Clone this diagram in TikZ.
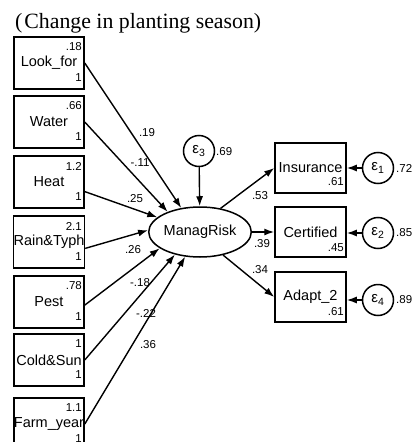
\documentclass[tikz,border=0pt]{standalone}
\usepackage{fontspec}
\setmainfont{Liberation Sans}
\newfontfamily\titlefont{Liberation Serif}
\usetikzlibrary{arrows.meta,shapes.geometric}
\begin{document}
\begin{tikzpicture}[x=1pt,y=-1pt,
  obs/.style={draw,line width=1.5pt,minimum width=70pt,minimum height=52pt,inner sep=0pt,font=\fontsize{14.5}{16}\selectfont},
  robs/.style={obs,minimum height=50pt,minimum width=71pt},
  lat/.style={draw,ellipse,line width=1.5pt,minimum width=74pt,minimum height=50pt,inner sep=0pt,font=\fontsize{14.5}{16}\selectfont},
  err/.style={draw,circle,line width=1.5pt,minimum size=31pt,inner sep=0pt,font=\fontsize{15}{17}\selectfont},
  sm/.style={font=\fontsize{11.5}{13}\selectfont,inner sep=0pt},
  arr/.style={line width=1.4pt,-{Latex[length=10pt,width=7pt]}},
]
\clip (0,0) rectangle (416,442);
\node[anchor=base west,inner sep=0pt,font=\titlefont\fontsize{21.8}{24}\selectfont] (title) at (15,28) {(\hspace{2pt}Change in planting season)};
% left observed variables
\foreach \n/\t/\top/\v in {a/Look\_for/37/.18, b/Water/96/.66, c/Heat/156/1.2, d/Rain\&Typh/216/2.1, e/Pest/276/.78, f/Cold\&Sun/334/1, g/Farm\_year/398/1.1} {
  \node[obs] (\n) at (49,\top+26) {\t};
  \node[sm,anchor=east] (\n v) at (82,\top+10) {\v};
  \node[sm,anchor=east] (\n o) at (82,\top+41) {1};
}
% latent
\node[lat] (M) at (200,232) {ManagRisk};
\node[err] (e3) at (199,151) {ε\textsubscript{3}};
\node[sm,anchor=west] (v3) at (216,152) {.69};
% right observed
\node[robs] (ins) at (310.5,168) {Insurance};
\node[sm,anchor=east] (insv) at (344,182) {.61};
\node[robs] (cer) at (310.5,232) {Certified};
\node[sm,anchor=east] (cerv) at (344,248) {.45};
\node[robs] (ada) at (310.5,297) {Adapt\_2};
\node[sm,anchor=east] (adav) at (344,312) {.61};
\node[err] (e1) at (378,168) {ε\textsubscript{1}};
\node[err] (e2) at (378,233) {ε\textsubscript{2}};
\node[err] (e4) at (378,300) {ε\textsubscript{4}};
\node[sm,anchor=west] (v1) at (396,168) {.72};
\node[sm,anchor=west] (v2) at (396,233) {.85};
\node[sm,anchor=west] (v4) at (396,300) {.89};
% paths into ManagRisk
\draw[arr] (a.east) -- (M.128);
\draw[arr] (b.east) -- (M.148);
\draw[arr] (c.-15) -- (M.161);
\draw[arr] (d.-10) -- (M.178);
\draw[arr] (e.-5) -- (M.202);
\draw[arr] (f.east) -- (M.222);
\draw[arr] (g.east) -- (M.239);
\draw[arr] (e3) -- (M);
\draw[arr] (M.49) -- (ins.west);
\draw[arr] (M.east) -- (cer.west);
\draw[arr] (M.-45) -- (ada.west);
\draw[arr] (e1) -- (ins);
\draw[arr] (e2) -- (e2.west -| cer.east);
\draw[arr] (e4) -- (e4.west -| ada.east);
% path labels
\node[sm] (l1) at (147,133) {.19};
\node[sm] (l2) at (140,163) {-.11};
\node[sm] (l3) at (135,199) {.25};
\node[sm] (l4) at (133,250) {.26};
\node[sm] (l5) at (140,283) {-.18};
\node[sm] (l6) at (146,313) {-.22};
\node[sm] (l7) at (148,345) {.36};
\node[sm] (l8) at (260,196) {.53};
\node[sm] (l9) at (262,244) {.39};
\node[sm] (l10) at (260,270) {.34};
\end{tikzpicture}
\end{document}
